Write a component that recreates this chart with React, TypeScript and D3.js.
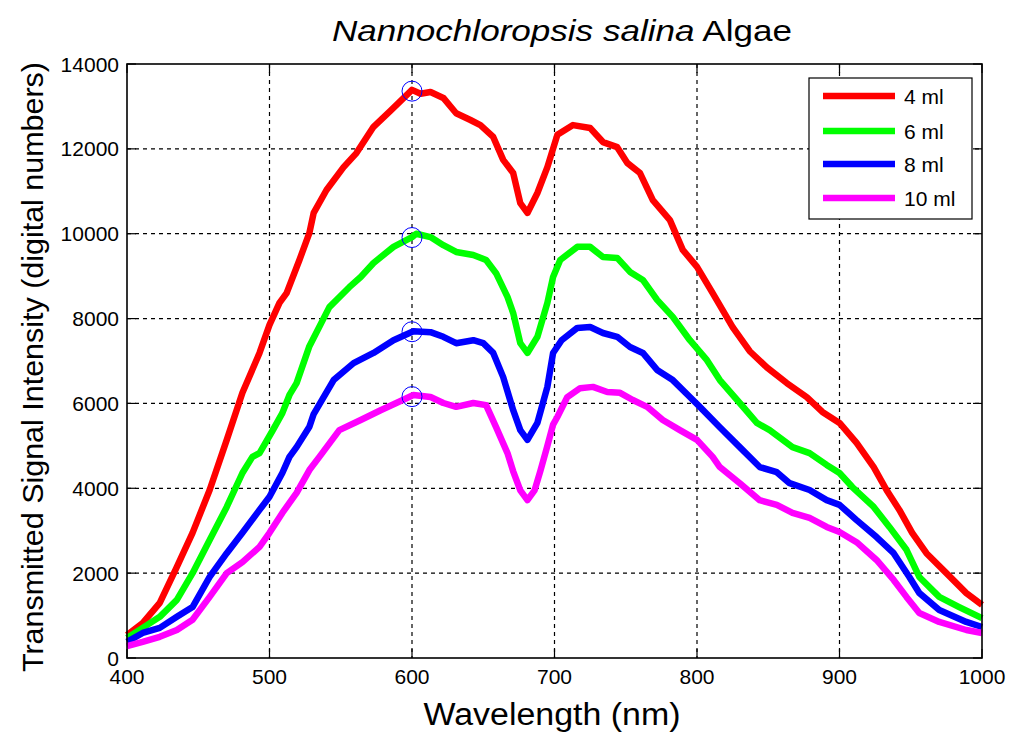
import React from "react";
import * as d3 from "d3";

const xTicks = [400, 500, 600, 700, 800, 900, 1000];
const yTicks = [0, 2000, 4000, 6000, 8000, 10000, 12000, 14000];
const seriesNames = ["4 ml", "6 ml", "8 ml", "10 ml"];
const seriesColors = ["#ff0000", "#00ff00", "#0000ff", "#ff00ff"];

const redNm = [400, 411, 423, 435, 446, 458, 470, 481, 493, 500, 507, 512, 521, 528, 531, 540, 552, 561, 573, 585, 600, 606, 613, 622, 631, 641, 648, 657, 664, 671, 676, 681, 688, 695, 702, 713, 725, 734, 744, 751, 760, 769, 781, 790, 800, 811, 825, 837, 849, 863, 877, 888, 900, 912, 924, 933, 942, 951, 961, 975, 989, 1000];
const redVal = [540, 820, 1300, 2150, 2950, 3960, 5140, 6250, 7190, 7850, 8370, 8600, 9380, 10020, 10490, 11030, 11570, 11900, 12520, 12900, 13390, 13300, 13340, 13200, 12840, 12680, 12560, 12280, 11740, 11430, 10720, 10490, 10960, 11570, 12330, 12560, 12490, 12160, 12040, 11670, 11430, 10790, 10320, 9620, 9220, 8600, 7800, 7230, 6850, 6480, 6150, 5800, 5540, 5070, 4500, 3960, 3490, 2950, 2470, 2000, 1530, 1250];

const greenNm = [400, 411, 423, 435, 446, 458, 470, 481, 488, 493, 502, 509, 514, 519, 528, 542, 556, 564, 573, 587, 600, 603, 613, 622, 631, 643, 652, 659, 667, 671, 676, 681, 688, 695, 699, 704, 716, 725, 734, 744, 753, 762, 772, 783, 795, 807, 816, 830, 842, 851, 867, 879, 891, 900, 909, 924, 935, 947, 956, 970, 984, 1000];
const greenVal = [470, 710, 970, 1370, 2000, 2780, 3560, 4360, 4740, 4830, 5350, 5770, 6200, 6480, 7350, 8270, 8740, 8980, 9310, 9690, 9920, 10000, 9920, 9730, 9570, 9500, 9380, 9070, 8510, 8130, 7420, 7190, 7570, 8370, 8980, 9380, 9690, 9690, 9450, 9430, 9100, 8910, 8440, 8040, 7490, 7020, 6550, 6010, 5540, 5370, 4970, 4830, 4550, 4360, 4030, 3560, 3090, 2550, 1910, 1440, 1200, 940];

const blueNm = [400, 411, 423, 435, 446, 458, 470, 481, 493, 500, 509, 514, 519, 528, 531, 545, 559, 573, 587, 601, 613, 622, 631, 643, 650, 657, 664, 671, 676, 681, 688, 695, 699, 705, 716, 725, 734, 744, 753, 762, 772, 783, 795, 802, 816, 830, 844, 856, 865, 879, 891, 900, 912, 926, 938, 949, 956, 970, 989, 1000];
const blueVal = [380, 590, 710, 970, 1200, 1910, 2470, 2950, 3490, 3800, 4360, 4740, 4970, 5450, 5750, 6550, 6950, 7190, 7490, 7700, 7680, 7570, 7420, 7490, 7420, 7190, 6620, 5840, 5370, 5140, 5540, 6390, 7190, 7490, 7780, 7800, 7660, 7570, 7330, 7190, 6790, 6550, 6150, 5920, 5440, 4970, 4500, 4380, 4120, 3960, 3720, 3610, 3250, 2850, 2470, 1910, 1530, 1130, 850, 730];

const magentaNm = [400, 411, 423, 435, 446, 458, 470, 481, 493, 500, 509, 519, 528, 535, 549, 564, 578, 589, 601, 613, 622, 631, 643, 652, 659, 667, 671, 676, 681, 686, 690, 695, 699, 702, 709, 718, 727, 737, 746, 755, 765, 776, 788, 800, 811, 816, 830, 844, 856, 867, 879, 891, 900, 912, 926, 938, 947, 956, 970, 989, 1000];
const magentaVal = [280, 380, 500, 660, 900, 1440, 2000, 2260, 2620, 2950, 3420, 3890, 4430, 4740, 5370, 5610, 5840, 6010, 6200, 6150, 6010, 5920, 6010, 5960, 5440, 4830, 4400, 3950, 3720, 3950, 4400, 5000, 5500, 5680, 6150, 6360, 6390, 6270, 6250, 6080, 5920, 5610, 5370, 5140, 4740, 4500, 4120, 3720, 3610, 3420, 3300, 3090, 2970, 2730, 2310, 1840, 1440, 1060, 850, 660, 590];

const markerNm = 600;
const markerVal = [13360, 9910, 7690, 6160];

const seriesNm = [redNm, greenNm, blueNm, magentaNm];
const seriesVal = [redVal, greenVal, blueVal, magentaVal];

const L = 127, R = 982, T = 64, B = 658;
const FONT = "Liberation Sans, Arial, Helvetica, sans-serif";

export default function App() {
  const x = d3.scaleLinear().domain([400, 1000]).range([L, R]);
  const y = d3.scaleLinear().domain([0, 14000]).range([B, T]);
  const line = d3
    .line<[number, number]>()
    .x((d) => x(d[0]))
    .y((d) => y(d[1]))
    .curve(d3.curveLinear);

  React.useEffect(() => {
    document.body.style.margin = "0";
  }, []);

  const legendX = 809, legendY = 78, legendW = 163, legendH = 141;
  const legendRows = [96, 131, 164, 198];

  return (
    <svg width={1024} height={748} style={{ position: "absolute", left: 0, top: 0, background: "#fff" }} fontFamily={FONT}>
      <rect x={0} y={0} width={1024} height={748} fill="#fff" />
      <rect x={L} y={T} width={R - L} height={B - T} fill="#fff" />
      {/* grid */}
      {xTicks.slice(1, -1).map((t) => (
        <line key={"gx" + t} x1={x(t)} x2={x(t)} y1={T} y2={B} stroke="#000" strokeWidth={1.2} strokeDasharray="4,4" />
      ))}
      {yTicks.slice(1, -1).map((t) => (
        <line key={"gy" + t} x1={L} x2={R} y1={y(t)} y2={y(t)} stroke="#000" strokeWidth={1.2} strokeDasharray="4,4" />
      ))}
      {/* ticks inward on all sides */}
      {xTicks.map((t) => (
        <g key={"tx" + t}>
          <line x1={x(t)} x2={x(t)} y1={B} y2={B - 9} stroke="#000" strokeWidth={1.2} />
          <line x1={x(t)} x2={x(t)} y1={T} y2={T + 9} stroke="#000" strokeWidth={1.2} />
        </g>
      ))}
      {yTicks.map((t) => (
        <g key={"ty" + t}>
          <line x1={L} x2={L + 9} y1={y(t)} y2={y(t)} stroke="#000" strokeWidth={1.2} />
          <line x1={R} x2={R - 9} y1={y(t)} y2={y(t)} stroke="#000" strokeWidth={1.2} />
        </g>
      ))}
      {/* series */}
      {seriesNm.map((nm, i) => (
        <path
          key={"s" + i}
          d={line(nm.map((n, j) => [n, seriesVal[i][j]] as [number, number])) || ""}
          fill="none"
          stroke={seriesColors[i]}
          strokeWidth={6.5}
          strokeLinejoin="round"
          strokeLinecap="butt"
        />
      ))}
      {/* markers */}
      {markerVal.map((v, i) => (
        <circle key={"m" + i} cx={x(markerNm)} cy={y(v)} r={10} fill="none" stroke="#0000ff" strokeWidth={1} />
      ))}
      {/* axes box */}
      <rect x={L} y={T} width={R - L} height={B - T} fill="none" stroke="#000" strokeWidth={1.6} />
      {/* tick labels */}
      {xTicks.map((t) => (
        <text key={"lx" + t} x={x(t)} y={684} fontSize={21} textAnchor="middle" fill="#000">
          {t}
        </text>
      ))}
      {yTicks.map((t) => (
        <text key={"ly" + t} x={119} y={y(t) + 7.5} fontSize={21} textAnchor="end" fill="#000">
          {t}
        </text>
      ))}
      {/* title */}
      <text x={562} y={41} fontSize={30} textAnchor="middle" fill="#000" textLength={460} lengthAdjust="spacingAndGlyphs">
        <tspan fontStyle="italic">Nannochloropsis salina</tspan>
        <tspan> Algae</tspan>
      </text>
      {/* x label */}
      <text x={552} y={725} fontSize={31} textAnchor="middle" fill="#000" textLength={257} lengthAdjust="spacingAndGlyphs">
        Wavelength (nm)
      </text>
      {/* y label */}
      <text
        transform={`translate(43,${367}) rotate(-90)`}
        fontSize={29}
        textAnchor="middle"
        fill="#000"
        textLength={610}
        lengthAdjust="spacingAndGlyphs"
      >
        Transmitted Signal Intensity (digital numbers)
      </text>
      {/* legend */}
      <rect x={legendX} y={legendY} width={legendW} height={legendH} fill="#fff" stroke="#000" strokeWidth={1.2} />
      {seriesNames.map((name, i) => (
        <g key={"lg" + i}>
          <line x1={823} x2={895} y1={legendRows[i]} y2={legendRows[i]} stroke={seriesColors[i]} strokeWidth={6.5} />
          <text x={904} y={legendRows[i] + 7.5} fontSize={21} fill="#000">
            {name}
          </text>
        </g>
      ))}
    </svg>
  );
}
